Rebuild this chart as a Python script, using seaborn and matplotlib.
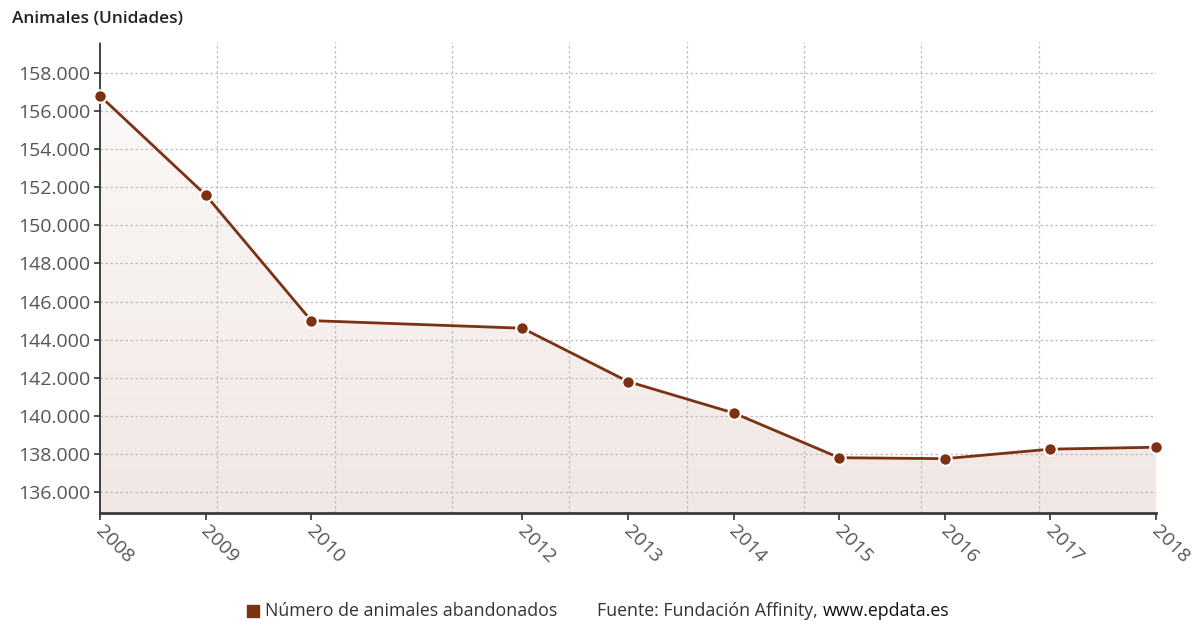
import numpy as np
import pandas as pd
import matplotlib.pyplot as plt
import matplotlib.ticker as mticker
import matplotlib.transforms as mtransforms
from matplotlib.colors import LinearSegmentedColormap
from matplotlib.patches import Rectangle
import seaborn as sns

# data
years = [2008, 2009, 2010, 2012, 2013, 2014, 2015, 2016, 2017, 2018]
animals = [156800, 151600, 145000, 144600, 141800, 140150, 137800, 137750, 138250, 138350]
y_ticks = list(range(136000, 158001, 2000))
y_title = 'Animales (Unidades)'
series_label = 'Número de animales abandonados'
source_text = 'Fuente: Fundación Affinity, '
source_url = 'www.epdata.es'

df = pd.DataFrame({'year': years, 'animals': animals})

sns.set_style('white')
plt.rcParams['font.family'] = ['Open Sans', 'DejaVu Sans']

line_color = '#7b3112'
grid_color = '#bdbdbd'
text_color = '#555555'

W, H = 1192, 621
fig = plt.figure(figsize=(W / 100, H / 100), dpi=100)
ax = fig.add_axes([100 / W, 1 - 513 / H, 1056 / W, 471 / H])

ymin, ymax = 134897, 159628

# gradient area under the line
grad = np.linspace(0, 1, 256).reshape(-1, 1)
cmap = LinearSegmentedColormap.from_list('fill', ['#fcfbfa', '#f1e7e4'])
im = ax.imshow(grad, extent=[years[0], years[-1], ymin, ymax], aspect='auto',
               cmap=cmap, origin='upper', zorder=0)
poly = ax.fill_between(df.year, df.animals, ymin, color='none', lw=0)
im.set_clip_path(poly.get_paths()[0], transform=ax.transData)

sns.lineplot(data=df, x='year', y='animals', ax=ax, color=line_color, lw=2,
             marker='o', markersize=9, markeredgecolor='white', markeredgewidth=1.5,
             zorder=5, clip_on=False)

ax.set_xlim(years[0], years[-1])
ax.set_ylim(ymin, ymax)

# grid: vertical lines split the range evenly, horizontal at y ticks
ax.xaxis.set_minor_locator(mticker.FixedLocator(np.linspace(years[0], years[-1], 10)[1:]))
ax.set_xticks(years)
ax.set_yticks(y_ticks)
ax.grid(which='minor', axis='x', color=grid_color, ls=(0, (2, 2)), lw=0.9)
ax.grid(which='major', axis='y', color=grid_color, ls=(0, (2, 2)), lw=0.9)
ax.grid(which='major', axis='x', visible=False)
ax.set_axisbelow(True)

ax.yaxis.set_major_formatter(mticker.FuncFormatter(lambda v, p: f'{int(v):,}'.replace(',', '.')))
ax.tick_params(axis='y', which='major', left=True, length=4, width=1.2, color='#333333',
               labelsize=14, labelcolor=text_color, pad=3)
ax.tick_params(axis='x', which='major', bottom=True, length=5, width=1.2, color='#333333',
               labelsize=14, labelcolor=text_color, pad=6)
ax.tick_params(axis='x', which='minor', length=0)
shift = mtransforms.ScaledTranslation(-8 / 100, 6 / 100, fig.dpi_scale_trans)
for lab in ax.get_xticklabels():
    lab.set_rotation(-45)
    lab.set_ha('left')
    lab.set_va('top')
    lab.set_rotation_mode('default')
    lab.set_transform(lab.get_transform() + shift)

for s in ['top', 'right']:
    ax.spines[s].set_visible(False)
ax.spines['bottom'].set_color('#3a3a3a')
ax.spines['bottom'].set_linewidth(2)
ax.spines['left'].set_color('#333333')
ax.spines['left'].set_linewidth(1.3)
ax.spines['left'].set_linestyle((0, (2, 1)))
ax.set_xlabel('')
ax.set_ylabel('')

fig.text(12 / W, 1 - 19 / H, y_title, fontsize=12.4, fontweight='semibold',
         color='#222222', va='center', ha='left')

# legend and source at the bottom
fig.add_artist(Rectangle((247 / W, 1 - 617 / H), 12 / W, 12 / H, transform=fig.transFigure,
                         color=line_color))
fig.text(265 / W, 1 - 611 / H, series_label, fontsize=12.8, color='#333333',
         va='center', ha='left')
t = fig.text(597 / W, 1 - 611 / H, source_text, fontsize=12.8, color='#333333',
             va='center', ha='left')
fig.canvas.draw()
bb = t.get_window_extent()
fig.text(bb.x1 / W, 1 - 611 / H, source_url, fontsize=12.8, color='#111111',
         va='center', ha='left')

fig.savefig('out.png', dpi=100)
